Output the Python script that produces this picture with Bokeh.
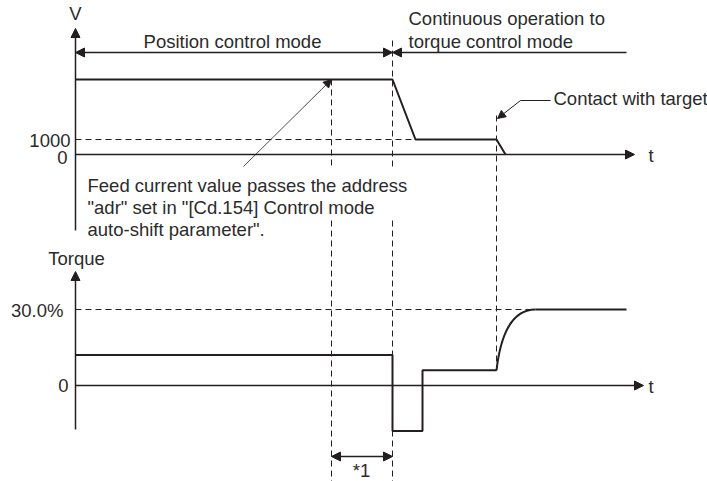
from bokeh.plotting import figure
from bokeh.models import Range1d, Label, Arrow, NormalHead
from bokeh.embed import file_html
from bokeh.resources import INLINE

# ---- data (time in arbitrary units) ----
speed_t = [0, 317, 340, 421, 430]
speed_v = [5000, 5000, 1000, 1000, 0]
speed_ticks = ["1000", "0"]

torque_t = [0, 317, 317, 347, 347, 421]
torque_v = [12, 12, -18, -18, 6, 6]
torque_rise = dict(t0=421, v0=6, t1=460, v1=30, ct=428, cv=30)
torque_hold_t = [460, 551]
torque_hold_v = [30, 30]
torque_ticks = ["30.0%", "0"]

t_adr = 256       # feed value passes "adr"
t_switch = 317    # switch to torque control
t_contact = 421   # contact with target
t_dec_end = 340
t_reach = 460
limit_speed = 1000
limit_torque = 30

INK = "#231f20"
TXT = "#2b2b2b"
FONT = "Liberation Sans"
FS = "18.5px"

W, H = 707, 481
OX, OY = 0, 0   # figure offset on the page
def X(px):
    return px - 75
S_PER = 5000 / 75.0
def YS(py):
    return (154 - py) * S_PER
T_PER = 30 / 76.0
def YT(py):
    return (385 - py) * T_PER

p = figure(width=W, height=H, output_backend="svg", toolbar_location=None,
           x_range=Range1d(X(OX), X(OX + W)),
           y_range=Range1d(YS(OY + H), YS(OY)),
           min_border=0, x_axis_location=None, y_axis_location=None)
p.extra_y_ranges = {"torque": Range1d(YT(OY + H), YT(OY))}
p.grid.visible = False
p.outline_line_color = None
p.background_fill_color = "white"
p.border_fill_color = "white"

# dashed guides
DASH = "6 4"
p.line([0, t_dec_end], [limit_speed, limit_speed], line_color=INK, line_width=1, line_dash=DASH)
p.line([0, t_reach], [limit_torque, limit_torque], line_color=INK, line_width=1,
       line_dash=DASH, y_range_name="torque")
p.segment(x0=[t_adr, t_adr], y0=[5000, YS(220)], x1=[t_adr, t_adr], y1=[YS(168), YS(481)],
          line_color=INK, line_width=1, line_dash=DASH)
p.segment(x0=[t_switch, t_switch], y0=[YS(40), YS(220)], x1=[t_switch, t_switch],
          y1=[YS(168), YS(481)], line_color=INK, line_width=1, line_dash=DASH)
p.segment(x0=[t_contact], y0=[YS(115)], x1=[t_contact], y1=[YS(370)],
          line_color=INK, line_width=1, line_dash=DASH)

# speed profile
p.line(speed_t, speed_v, line_color=INK, line_width=2)
# torque profile
p.line(torque_t, torque_v, line_color=INK, line_width=2, y_range_name="torque")
p.quadratic(x0=[torque_rise["t0"]], y0=[torque_rise["v0"]], x1=[torque_rise["t1"]],
            y1=[torque_rise["v1"]], cx=[torque_rise["ct"]], cy=[torque_rise["cv"]],
            line_color=INK, line_width=2, y_range_name="torque")
p.line(torque_hold_t, torque_hold_v, line_color=INK, line_width=2, y_range_name="torque")

def head(sz=9):
    return NormalHead(size=sz, fill_color=INK, line_color=INK, line_width=1)

# axes drawn as arrows
p.add_layout(Arrow(end=head(), x_start=0, y_start=YS(230), x_end=0, y_end=YS(28),
                   line_color=INK, line_width=1.5))
p.add_layout(Arrow(end=head(), x_start=0, y_start=0, x_end=X(634), y_end=0,
                   line_color=INK, line_width=1.5))
p.add_layout(Arrow(end=head(), x_start=0, y_start=YT(429), x_end=0, y_end=YT(271),
                   line_color=INK, line_width=1.5, y_range_name="torque"))
p.add_layout(Arrow(end=head(), x_start=0, y_start=0, x_end=X(643), y_end=0,
                   line_color=INK, line_width=1.5, y_range_name="torque"))

# mode spans
p.add_layout(Arrow(start=head(), end=head(), x_start=0, y_start=YS(52), x_end=t_switch,
                   y_end=YS(52), line_color=INK, line_width=1.5))
p.add_layout(Arrow(start=head(), end=None, x_start=t_switch, y_start=YS(52), x_end=X(626),
                   y_end=YS(52), line_color=INK, line_width=1.5))
# *1 span
p.add_layout(Arrow(start=head(), end=head(), x_start=t_adr, y_start=YS(456), x_end=t_switch,
                   y_end=YS(456), line_color=INK, line_width=1.5))
# feed value pointer
p.add_layout(Arrow(end=head(8), x_start=X(243), y_start=YS(166), x_end=t_adr, y_end=5000,
                   line_color=INK, line_width=0.8))
# contact pointer
p.segment(x0=[X(550)], y0=[YS(100)], x1=[X(520)], y1=[YS(100)], line_color=INK, line_width=1)
p.add_layout(Arrow(end=head(8), x_start=X(520), y_start=YS(100), x_end=X(497), y_end=YS(118),
                   line_color=INK, line_width=1))

def lab(text, px, py, align="left", torque=False):
    kw = dict(x=X(px), y=(YT(py) if torque else YS(py)), text=text, text_font=FONT,
              text_font_size=FS, text_color=TXT, text_align=align, text_baseline="middle")
    if torque:
        kw["y_range_name"] = "torque"
    p.add_layout(Label(**kw))

lab("V", 75, 13, "center")
lab("Position control mode", 232, 41, "center")
lab("Continuous operation to", 408, 18)
lab("torque control mode", 408, 41)
lab("Contact with target", 553, 98)
lab(speed_ticks[0], 70, 140, "right")
lab(speed_ticks[1], 67, 157, "right")
lab("t", 648, 155)
lab("Feed current value passes the address", 87, 185)
lab("\"adr\" set in \"[Cd.154] Control mode", 87, 207)
lab("auto-shift parameter\".", 87, 229)
lab("Torque", 76, 258, "center")
lab(torque_ticks[0], 63, 310, "right")
lab(torque_ticks[1], 68, 385, "right")
lab("t", 648, 386)
lab("*1", 361, 470, "center")

open("out.html", "w").write(file_html(p, INLINE))
